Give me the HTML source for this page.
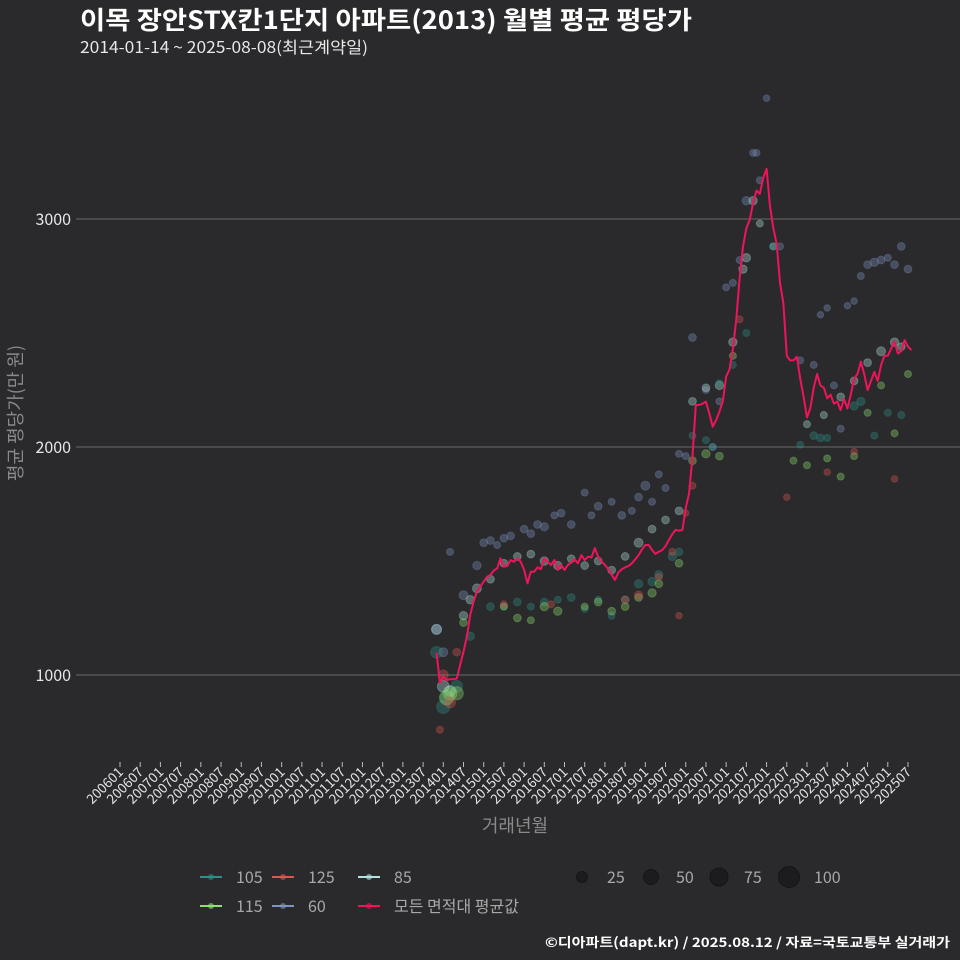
<!DOCTYPE html>
<html><head><meta charset="utf-8">
<style>
html,body{margin:0;padding:0;background:#2a2a2c;}
svg{display:block;font-family:"Noto Sans CJK KR","Liberation Sans",sans-serif;}
</style></head>
<body>
<svg id="chart" width="960" height="960" viewBox="0 0 960 960" xmlns="http://www.w3.org/2000/svg">
<rect width="960" height="960" fill="#2a2a2c"/>
<text x="80" y="29" font-size="25" font-weight="bold" fill="#ffffff" textLength="612" lengthAdjust="spacingAndGlyphs">이목 장안STX칸1단지 아파트(2013) 월별 평균 평당가</text>
<text x="80" y="53" font-size="16" fill="#e8e8e8" textLength="288" lengthAdjust="spacingAndGlyphs">2014-01-14 ~ 2025-08-08(최근계약일)</text>
<g id="grid"></g>
<g id="yaxis"></g>
<g id="xaxis"></g>
<g id="points"></g>
<g id="avgline"></g>
<text x="0" y="0" transform="translate(22,413) rotate(-90)" text-anchor="middle" font-size="18" fill="#8a8a8a">평균 평당가(만 원)</text>
<text x="515" y="832" text-anchor="middle" font-size="18" fill="#8a8a8a">거래년월</text>
<g id="legend"></g>
<text x="545" y="947" font-size="13" font-weight="bold" fill="#ffffff" textLength="405" lengthAdjust="spacingAndGlyphs">©디아파트(dapt.kr) / 2025.08.12 / 자료=국토교통부 실거래가</text>
</svg>
<script>
// ---- data ----
const startMonth = 94; // months since 2006-01 for first average point
const avgValues = [1098,966,993,978,981,981,985,1044,1102,1168,1263,1322,1366,1388,1409,1431,1439,1458,1468,1512,1475,1478,1504,1497,1512,1497,1461,1402,1453,1453,1472,1464,1512,1497,1483,1504,1461,1483,1461,1483,1493,1507,1490,1526,1504,1519,1516,1556,1519,1497,1483,1464,1439,1417,1449,1464,1472,1478,1490,1507,1526,1551,1570,1570,1548,1531,1541,1548,1566,1592,1618,1636,1633,1636,1731,1797,1960,2184,2184,2190,2199,2148,2089,2118,2155,2200,2310,2340,2430,2560,2740,2880,2960,2996,3070,3125,3110,3180,3220,3060,2960,2890,2720,2630,2400,2380,2380,2396,2300,2220,2130,2170,2260,2320,2270,2260,2213,2230,2190,2200,2162,2210,2169,2230,2300,2320,2374,2320,2250,2290,2330,2290,2360,2400,2400,2432,2462,2410,2420,2469,2440,2425];
// scatter: month offsets, values, sizes per area
const s60k = [0,2,4,8,12,14,16,18,20,22,26,28,30,32,35,37,40,44,46,48,52,55,58,60,62,64,66,68,72,74,76,80,82,84,86,88,90,92,94,95,96,98,102,108,112,114,116,118,120,122,124,126,128,130,132,134,136,138,140];
const s60v = [1200,1100,1540,1350,1480,1580,1590,1570,1600,1610,1640,1620,1660,1650,1700,1710,1660,1800,1700,1740,1760,1700,1720,1780,1830,1760,1880,1820,1970,1960,2480,2250,2000,2200,2700,2720,2820,3080,3290,3290,3170,3530,2880,2380,2360,2580,2610,2270,2080,2620,2640,2750,2800,2810,2820,2830,2800,2880,2780];
const s60s = [40,30,15,30,25,20,20,15,20,20,20,20,20,25,15,20,20,15,15,20,15,20,15,20,30,15,15,15,15,15,20,15,15,15,15,15,15,25,15,15,15,12,15,15,15,12,12,15,15,12,12,15,20,25,20,15,20,20,20];
const s85k = [0,2,4,8,10,12,16,20,24,28,32,36,40,44,48,52,56,60,64,68,72,76,80,84,88,91,92,94,96,100,110,115,120,124,128,132,136,138];
const s85v = [1200,950,930,1260,1330,1380,1420,1490,1520,1530,1500,1480,1510,1480,1500,1460,1520,1580,1640,1680,1720,2200,2260,2270,2460,2780,2830,3080,2980,2880,2100,2140,2220,2290,2370,2420,2460,2440];
const s85s = [40,60,50,25,25,30,20,20,20,20,25,25,20,20,20,20,20,30,20,20,20,20,20,25,25,25,25,25,15,15,15,15,20,20,20,30,25,20];
const s105k = [0,2,3,6,10,16,20,24,28,32,36,40,44,48,52,56,60,64,66,70,72,76,80,82,84,88,92,100,108,112,114,116,124,126,130,134,138];
const s105v = [1100,860,900,950,1170,1300,1300,1320,1300,1320,1330,1340,1290,1330,1260,1330,1400,1410,1440,1520,1540,2050,2030,2000,2280,2360,2500,2880,2010,2050,2040,2040,2180,2200,2050,2150,2140];
const s105s = [60,80,70,60,25,20,15,20,15,20,15,20,15,15,15,20,25,25,25,25,20,15,15,15,15,15,15,15,15,20,20,15,25,25,15,15,15];
const s115k = [3,4,6,8,20,24,28,32,36,44,48,52,56,60,64,66,72,76,80,84,88,106,110,116,120,124,128,132,136,140];
const s115v = [900,920,920,1230,1300,1250,1240,1300,1280,1300,1320,1280,1300,1340,1360,1400,1490,1940,1970,1960,2400,1940,1920,1950,1870,1960,2150,2270,2060,2320];
const s115s = [100,90,80,20,15,20,15,25,25,15,20,20,20,20,25,20,20,20,25,20,15,15,15,15,15,15,15,15,15,15];
const s125k = [1,2,4,6,20,34,56,60,66,70,72,74,76,90,104,116,124,136];
const s125v = [760,1000,880,1100,1310,1310,1330,1350,1430,1540,1260,1710,1830,2560,1780,1890,1980,1860];
const s125s = [15,40,50,20,15,15,20,25,15,15,12,12,15,15,12,12,12,12];
const yTicks = [1000,2000,3000];
const xTickLabels = [];
for (let y=2006;y<=2025;y++){ xTickLabels.push(y+'01'); xTickLabels.push(y+'07'); }

// ---- scales ----
const NS="http://www.w3.org/2000/svg";
function xM(m){ return 120 + m*(788/234); }
function yV(v){ return 675 - (v-1000)*0.228; }
function rS(s){ return 1.2 + Math.sqrt(s)*0.6; }
function mk(tag, attrs, parent){ const e=document.createElementNS(NS,tag); for(const k in attrs) e.setAttribute(k,attrs[k]); parent.appendChild(e); return e; }

const grid=document.getElementById('grid'), yax=document.getElementById('yaxis');
yTicks.forEach(v=>{
  const l=mk('line',{x1:76,x2:960,y1:yV(v),y2:yV(v),stroke:'#6a6a6a','stroke-width':1},grid);
  
  
  const t=mk('text',{x:71,y:yV(v)+6,'text-anchor':'end','font-size':16,fill:'#e6e6e6'},yax);
  t.textContent=v;
  
  
});
const xax=document.getElementById('xaxis');
xTickLabels.forEach((lab,i)=>{
  const x=xM(i*6);
  if (x>912) return;
  const tk=mk('line',{x1:x,x2:x,y1:762,y2:767,stroke:'#bbbbbb','stroke-width':1},xax);
  
  
  const t=mk('text',{x:0,y:0,transform:'translate('+(x+4)+',773) rotate(-45)','text-anchor':'end','font-size':13.5,fill:'#e0e0e0'},xax);
  t.textContent=lab;
  
  
});
const pts=document.getElementById('points');
const groups=[['60',s60k,s60v,s60s,'#7f93c0'],['85',s85k,s85v,s85s,'#b5e3e0'],['105',s105k,s105v,s105s,'#2f8f86'],['115',s115k,s115v,s115s,'#8fe070'],['125',s125k,s125v,s125s,'#d9574f']];
groups.forEach(g=>{
  const [name,ks,vs,ss,col]=g;
  ks.forEach((k,i)=>{
    const c=mk('circle',{cx:xM(startMonth+k),cy:yV(vs[i]),r:rS(ss[i]),fill:col,'fill-opacity':0.35,stroke:col,'stroke-opacity':0.3},pts);
    
    
  });
});
const al=document.getElementById('avgline');
const d=avgValues.map((v,i)=>(i?'L':'M')+xM(startMonth+i).toFixed(1)+','+yV(v).toFixed(1)).join(' ');
const p=mk('path',{d:d,fill:'none',stroke:'#f0145a','stroke-width':2,'stroke-linejoin':'round'},al);


const lg=document.getElementById('legend');
const items=[['105','#2f8f86',200,877],['125','#d9574f',272,877],['85','#b5e3e0',358,877],['115','#8fe070',200,906],['60','#7f93c0',272,906],['모든 면적대 평균값','#f0145a',358,906]];
items.forEach(it=>{
  const g=mk('g',{},lg);
  
  
  mk('line',{x1:it[2],x2:it[2]+22,y1:it[3],y2:it[3],stroke:it[1],'stroke-width':2},g);
  mk('circle',{cx:it[2]+11,cy:it[3],r:3,fill:it[1],'fill-opacity':0.6},g);
  const t=mk('text',{x:it[2]+36,y:it[3]+6,'font-size':16,fill:'#a8a8a8'},g);
  t.textContent=it[0];
});
const sizes=[25,50,75,100], sx=[582,651,719,789], sr=[5.5,7.5,9,10.5];
sizes.forEach((s,i)=>{
  const g=mk('g',{},lg);
  
  
  mk('circle',{cx:sx[i],cy:877,r:sr[i],fill:'#1c1c1e',stroke:'#151515'},g);
  const t=mk('text',{x:sx[i]+25,y:883,'font-size':16,fill:'#a8a8a8'},g);
  t.textContent=s;
});
</script>
</body></html>
